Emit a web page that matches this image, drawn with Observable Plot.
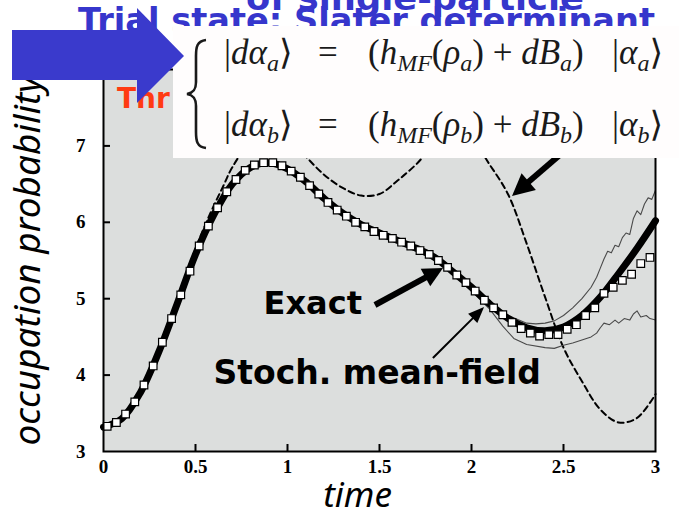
<!DOCTYPE html>
<html><head><meta charset="utf-8">
<script src="https://cdn.jsdelivr.net/npm/d3@7"></script>
<script src="https://cdn.jsdelivr.net/npm/@observablehq/plot@0.6"></script>
<style>
html,body{margin:0;padding:0;background:#fff;}
#wrap{position:relative;width:679px;height:516px;overflow:hidden;}
</style></head><body><div id="wrap"></div>
<script>
// ---- data ----
const xTicks = [0, 0.5, 1, 1.5, 2, 2.5, 3];
const yTicks = [3, 4, 5, 6, 7];
const xLabel = "time";
const yLabel = "occupation probability";
const titleLine1 = "of single-particle";
const titleLine2 = "Trial state: Slater determinant";
const redText = "Thr";
const labelExact = "Exact";
const labelStoch = "Stoch. mean-field";

// exact solution (thick line)
const exactT = [0,0.1,0.2,0.3,0.4,0.5,0.6,0.7,0.8,0.9,1.0,1.1,1.2,1.3,1.4,1.5,1.6,1.7,1.8,1.9,2.0,2.1,2.2,2.3,2.4,2.5,2.6,2.7,2.8,2.9,3.0];
const exactV = [3.32,3.43,3.77,4.30,4.93,5.58,6.10,6.50,6.72,6.78,6.70,6.53,6.31,6.12,5.97,5.86,5.76,5.66,5.54,5.35,5.15,4.93,4.74,4.62,4.58,4.63,4.78,5.02,5.33,5.66,6.02];

// stochastic mean-field average (open squares)
const smfT = [0.02,0.07,0.12,0.17,0.22,0.27,0.32,0.37,0.42,0.47,0.52,0.57,0.62,0.67,0.72,0.77,0.82,0.87,0.92,0.97,1.02,1.07,1.12,1.17,1.22,1.27,1.32,1.37,1.42,1.47,1.52,1.57,1.62,1.67,1.72,1.77,1.82,1.87,1.92,1.97,2.02,2.07,2.12,2.17,2.22,2.27,2.32,2.37,2.42,2.47,2.52,2.57,2.62,2.67,2.72,2.77,2.82,2.87,2.92,2.97];
const smfV = [3.33,3.38,3.49,3.65,3.87,4.12,4.43,4.74,5.05,5.36,5.69,5.95,6.19,6.40,6.56,6.68,6.75,6.78,6.78,6.74,6.67,6.59,6.48,6.37,6.26,6.16,6.08,6.00,5.94,5.88,5.83,5.79,5.74,5.69,5.63,5.58,5.50,5.41,5.31,5.21,5.10,4.98,4.88,4.79,4.69,4.61,4.55,4.51,4.53,4.53,4.60,4.66,4.78,4.88,5.07,5.15,5.24,5.32,5.46,5.54];

// upper / lower thin lines (statistical band)
const upperT = [1.85,1.9,2.0,2.1,2.2,2.3,2.35,2.4,2.45,2.5,2.55,2.6,2.65,2.68,2.70,2.72,2.74,2.76,2.78,2.80,2.82,2.84,2.86,2.88,2.90,2.92,2.94,2.96,2.98,3.0];
const upperV = [5.45,5.34,5.14,4.94,4.78,4.68,4.67,4.68,4.71,4.78,4.88,5.00,5.15,5.28,5.40,5.52,5.62,5.60,5.70,5.68,5.80,5.86,5.84,6.05,6.15,6.10,6.24,6.32,6.30,6.42];
const lowerT = [1.85,1.9,2.0,2.1,2.17,2.23,2.3,2.4,2.45,2.5,2.55,2.6,2.65,2.68,2.70,2.72,2.75,2.78,2.80,2.83,2.86,2.88,2.90,2.92,2.95,2.97,3.0];
const lowerV = [5.45,5.33,5.10,4.86,4.64,4.48,4.40,4.36,4.35,4.39,4.42,4.46,4.50,4.55,4.62,4.68,4.66,4.72,4.68,4.74,4.72,4.80,4.84,4.76,4.78,4.74,4.72];

// deterministic mean-field (dashed)
const mfT = [0,0.1,0.2,0.3,0.4,0.5,0.55,0.6,0.65,0.7,0.8,0.9,1.0,1.1,1.2,1.3,1.4,1.5,1.6,1.7,1.8,1.9,2.0,2.1,2.2,2.3,2.4,2.5,2.6,2.7,2.8,2.9,3.0];
const mfV = [3.32,3.43,3.78,4.32,4.97,5.65,5.95,6.22,6.47,6.72,7.05,7.18,7.12,6.86,6.62,6.45,6.35,6.37,6.55,6.76,7.02,7.15,7.08,6.75,6.36,5.72,5.02,4.36,3.92,3.55,3.38,3.44,3.75];

// annotation arrows: [tail t, tail v, tip t, tip v]
const arrowExact = [1.478, 4.911, 1.848, 5.395];
const arrowStoch = [1.793, 4.217, 2.071, 4.885];
const arrowMF = [2.495, 6.90, 2.223, 6.338];

const zip = (T, V) => T.map((t, i) => ({t, v: V[i]}));
const comic = "'DejaVu Sans', 'Noto Sans', sans-serif";
const serif = "'Liberation Serif', 'DejaVu Serif', serif";

function drawArrow(g, x1, y1, x2, y2, w, hl, hw) {
  const dx = x2 - x1, dy = y2 - y1, L = Math.hypot(dx, dy);
  const ux = dx / L, uy = dy / L, px = -uy, py = ux;
  const bx = x2 - ux * hl, by = y2 - uy * hl;
  g.append("line").attr("x1", x1).attr("y1", y1).attr("x2", bx + ux * 2).attr("y2", by + uy * 2)
    .attr("stroke", "black").attr("stroke-width", w);
  g.append("polygon").attr("fill", "black")
    .attr("points", `${x2},${y2} ${bx + px * hw / 2},${by + py * hw / 2} ${bx - px * hw / 2},${by - py * hw / 2}`);
}

const plot = Plot.plot({
  width: 679, height: 516,
  marginLeft: 103, marginRight: 24, marginTop: 69, marginBottom: 65,
  x: {domain: [0, 3]},
  y: {domain: [3, 8]},
  style: {background: "white", color: "black"},
  marks: [
    Plot.frame({fill: "#dcdedd"}),
    Plot.line(zip(mfT, mfV), {x: "t", y: "v", curve: "catmull-rom", stroke: "black", strokeWidth: 2, strokeDasharray: "6,4"}),
    Plot.line(zip(upperT, upperV), {x: "t", y: "v", stroke: "#4a4a4a", strokeWidth: 1.1}),
    Plot.line(zip(lowerT, lowerV), {x: "t", y: "v", stroke: "#4a4a4a", strokeWidth: 1.1}),
    Plot.line(zip(exactT, exactV), {x: "t", y: "v", curve: "catmull-rom", stroke: "black", strokeWidth: 7}),
    Plot.dot(zip(smfT, smfV), {x: "t", y: "v", symbol: "square", r: 4.3, fill: "white", stroke: "black", strokeWidth: 1.2}),
    Plot.tickX(xTicks.slice(1, -1), {x: d => d, insetTop: 375, stroke: "black", strokeWidth: 2}),
    Plot.tickY(yTicks.slice(1), {y: d => d, insetRight: 545, stroke: "black", strokeWidth: 2}),
    Plot.frame({stroke: "black", strokeWidth: 2}),
    Plot.axisX({ticks: xTicks, tickSize: 0, tickPadding: 8, tickFormat: d => String(d), fontSize: 19, fontWeight: "bold", fontFamily: serif, label: null}),
    Plot.axisY({ticks: yTicks, tickSize: 0, tickPadding: 18, tickFormat: d => String(d), fontSize: 19, fontWeight: "bold", fontFamily: serif, label: null}),
    Plot.text([yLabel], {text: d => d, frameAnchor: "left", textAnchor: "middle", dx: -75, rotate: -90, fontSize: 37, fontStyle: "italic", fontFamily: "'Noto Sans', sans-serif"}),
    Plot.text([xLabel], {text: d => d, frameAnchor: "bottom", textAnchor: "middle", dx: -22, dy: 31, lineAnchor: "top", fontSize: 35, fontStyle: "italic", fontFamily: "'Noto Sans', sans-serif"}),
    Plot.text([labelExact], {text: d => d, x: 0.87, y: 4.94, textAnchor: "start", fontSize: 32, fontWeight: "bold", fontFamily: comic}),
    Plot.text([labelStoch], {text: d => d, x: 0.598, y: 4.02, textAnchor: "start", fontSize: 33, fontWeight: "bold", fontFamily: comic}),
    (index, scales) => {
      const g = d3.create("svg:g");
      const {x, y} = scales;
      const A = (a, w, hl, hw) => drawArrow(g, x(a[0]), y(a[1]), x(a[2]), y(a[3]), w, hl, hw);
      A(arrowExact, 6, 20, 20);
      A(arrowStoch, 2, 16, 13);
      A(arrowMF, 6, 22, 22);
      return g.node();
    }
  ]
});

const svg = d3.select(plot);
const ov = svg.append("g").attr("text-anchor", "start");

// slide overlays: title text, red fragment, equation box, blue arrow
ov.append("text").text(titleLine1).attr("x", 246).attr("y", 10)
  .attr("font-family", comic).attr("font-weight", "bold").attr("font-size", 33)
  .attr("fill", "#3636cc").attr("textLength", 338).attr("lengthAdjust", "spacingAndGlyphs");
ov.append("text").text(titleLine2).attr("x", 78).attr("y", 32)
  .attr("font-family", comic).attr("font-weight", "bold").attr("font-size", 33)
  .attr("fill", "#3636cc").attr("textLength", 577).attr("lengthAdjust", "spacingAndGlyphs");
ov.append("text").text(redText).attr("x", 117).attr("y", 108)
  .attr("font-family", comic).attr("font-weight", "bold").attr("font-size", 28)
  .attr("fill", "#ff3a12");

ov.append("rect").attr("x", 173).attr("y", 26).attr("width", 506).attr("height", 132).attr("fill", "#fffdfd");

// curly brace
ov.append("path").attr("fill", "none").attr("stroke", "#1a1a1a").attr("stroke-width", 2.6)
  .attr("d", "M206,40 C197,41 196,47 196,56 L196,82 C196,90 193,93 187,94 C193,95 196,98 196,106 L196,132 C196,141 197,147 206,148");

function seg(x, yb, parts) {
  const t = ov.append("text").attr("x", x).attr("y", yb)
    .attr("font-family", serif).attr("font-size", 35).attr("fill", "#1a1a1a")
    .attr("xml:space", "preserve");
  let prevSub = false;
  for (const [txt, kind] of parts) {
    const sp = t.append("tspan").text(txt);
    if (kind >= 1) sp.attr("font-style", "italic");
    if (kind === 2) { sp.attr("font-size", 24).attr("dy", 7); prevSub = true; }
    else if (prevSub) { sp.attr("dy", -7); prevSub = false; }
  }
}
function eqLine(yb, s) {
  seg(224, yb, [["|", 0], ["dα", 1], [s, 2], ["⟩", 0]]);
  seg(318, yb, [["=", 0]]);
  seg(368, yb, [["(", 0], ["h", 1], ["MF", 2], ["(", 0], ["ρ", 1], [s, 2], [")", 0], [" + ", 0], ["dB", 1], [s, 2], [")", 0]]);
  seg(612, yb, [["|", 0], ["α", 1], [s, 2], ["⟩", 0]]);
}
eqLine(64, "a");
eqLine(136, "b");

ov.append("polygon").attr("fill", "#3a3acc")
  .attr("points", "12,30 137,30 137,8 184,56 137,103 137,80 12,80");

document.getElementById("wrap").appendChild(plot);
</script>
</body></html>
